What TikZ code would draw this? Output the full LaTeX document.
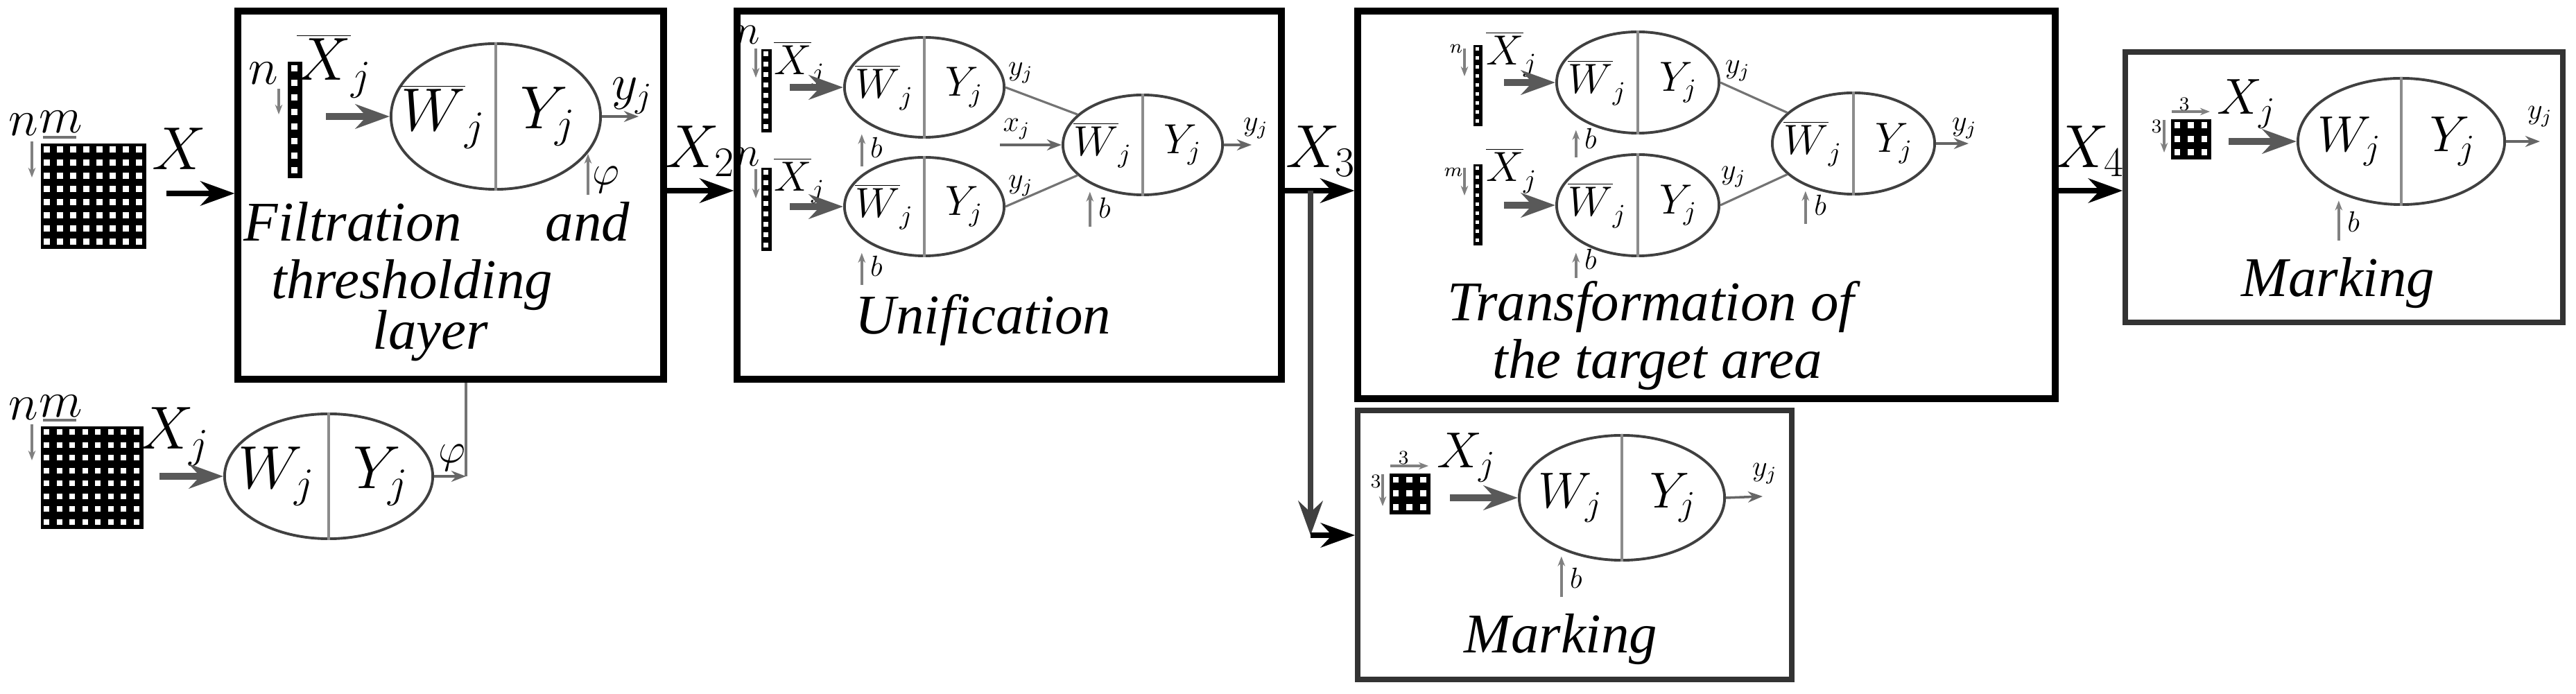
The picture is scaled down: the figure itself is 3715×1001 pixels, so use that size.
\documentclass[tikz,border=0pt]{standalone}
\usepackage{fontspec}
\setmainfont{Liberation Serif}
\usetikzlibrary{positioning, arrows.meta, calc, shapes.geometric, fit}

\newcommand{\fbig}{\fontsize{24}{28}\selectfont}
\newcommand{\fmid}{\fontsize{20}{24}\selectfont}
\newcommand{\fsm}{\fontsize{16}{19}\selectfont}
\newcommand{\ftiny}{\fontsize{12}{14}\selectfont}
\newcommand{\fmini}{\fontsize{8}{10}\selectfont}

\tikzset{
    block/.style={draw=black, line width=2.6pt, inner sep=0pt},
    block2/.style={draw=black!80, line width=2.2pt, inner sep=0pt},
    neuron/.style={ellipse, draw=black!75, line width=1.1pt, inner sep=0pt},
    divider/.style={draw=black!45, line width=1.2pt},
    pix/.style={fill=black, draw=none, inner sep=0pt},
    flow/.style={-{Stealth[length=14pt,width=10pt]}, line width=2.2pt},
    feed/.style={-{Stealth[length=14pt,width=10pt]}, line width=3pt, draw=black!65},
    link/.style={draw=black!55, line width=0.9pt},
    tick/.style={-{Stealth[length=4pt]}, draw=black!50, line width=1.2pt},
    outlink/.style={-{Stealth[length=6pt]}, draw=black!60, line width=1pt},
    title/.style={font=\fontsize{23}{27}\selectfont\itshape, inner sep=0pt}
}

% neuron: name, x, y, rx, ry, font, left label, right label
\newcommand{\neuron}[8]{%
    \node[neuron, minimum width=#4*0.02cm, minimum height=#5*0.02cm] (#1) at (#2,#3) {};
    \draw[divider] (#1.north) -- (#1.south);
    \node[font=#6] at ([xshift=-#4*0.005cm]#1.center) {#7};
    \node[font=#6] at ([xshift=#4*0.005cm]#1.center) {#8};}

% pixel image: name, x, y, cols, rows, cell
\newcommand{\pixgrid}[6]{%
    \node[pix, anchor=north west, minimum width=#4*#6*0.01cm, minimum height=#5*#6*0.01cm] (#1) at (#2,#3) {};
    \foreach \ci in {1,...,#4} \foreach \ri in {1,...,#5}
        \fill[white] ($(#1.north west)+(\ci*#6-0.72*#6,\ri*#6-0.72*#6)$) rectangle +(0.44*#6,0.44*#6);}

\begin{document}
\begin{tikzpicture}[x=0.01cm, y=-0.01cm]
    \useasboundingbox (0,0) rectangle (3715,1001);

    % Filtration and thresholding layer
    \pixgrid{imgA}{58}{206}{8}{8}{19}
    \node[font=\fmid] at (34,180) {$n$};
    \node[font=\fmid] at (88,176) {$m$};
    \draw[tick] (46,204) -- (46,256);
    \draw[link] (62,198) -- (110,198);
    \node[font=\fbig] (lX) at (258,215) {$X$};
    \node[block, fit={(343,16) (957,547)}] (filt) {};
    \coordinate (xin) at (240,279);
    \draw[flow] (xin) -- (xin -| filt.west);

    \pixgrid{vecF}{414}{88}{1}{8}{21}
    \node[font=\fmid] at (380,106) {$n$};
    \draw[tick] (402,128) -- (402,165);
    \node[font=\fbig] at (482,95) {$\overline{X}_j$};
    \neuron{eF}{715}{168}{151}{105}{\fbig}{$\overline{W}_j$}{$Y_j$}
    \coordinate (fin) at (470,168);
    \draw[feed] (fin) -- (eF.west);
    \node[font=\fmid] at (912,138) {$y_j$};
    \coordinate (yFo) at (921,168);
    \draw[outlink] (eF.east) -- (yFo);
    \coordinate (phiF) at (848,281);
    \coordinate (phiFe) at (848,222);
    \draw[tick] (phiF) -- (phiFe);
    \node[font=\fsm] at (874,259) {$\varphi$};
    \node[title, anchor=base west] at (351,348) {Filtration};
    \node[title, anchor=base east] at (909,348) {and};
    \node[title, anchor=base] at (594,431) {thresholding};
    \node[title, anchor=base] at (621,504) {layer};

    % second input
    \pixgrid{imgB}{58}{614}{8}{8}{18.5}
    \node[font=\fmid] at (34,590) {$n$};
    \node[font=\fmid] at (88,586) {$m$};
    \draw[tick] (46,612) -- (46,664);
    \draw[link] (62,606) -- (110,606);
    \node[font=\fbig] at (252,630) {$X_j$};
    \neuron{eG}{474}{687}{150}{90}{\fbig}{$W_j$}{$Y_j$}
    \coordinate (gin) at (230,687);
    \draw[feed] (gin) -- (eG.west);
    \coordinate (phiG) at (672,687);
    \draw[link, line width=1.4pt] (filt.south -| phiG) -- (phiG);
    \draw[outlink] (eG.east) -- (phiG);
    \node[font=\fsm] at (652,660) {$\varphi$};

    % Unification
    \node[font=\fbig] at (1010,218) {$X_2$};
    \node[block, fit={(1063,16) (1848,547)}] (unif) {};
    \coordinate (x2) at (1000,275);
    \draw[flow] (filt.east |- x2) -- (unif.west |- x2);

    \pixgrid{vecA}{1097}{70}{1}{8}{15}
    \pixgrid{vecB}{1097}{241}{1}{8}{15}
    \node[font=\fsm] at (1078,50) {$n$};
    \node[font=\fsm] at (1078,226) {$n$};
    \draw[tick] (1090,70) -- (1090,112);
    \draw[tick] (1090,244) -- (1090,286);
    \node[font=\fsm] at (1153,92) {$\overline{X}_j$};
    \node[font=\fsm] at (1153,260) {$\overline{X}_j$};
    \neuron{eA}{1333}{126}{115}{72}{\fsm}{$\overline{W}_j$}{$Y_j$}
    \neuron{eB}{1333}{298}{115}{71}{\fsm}{$\overline{W}_j$}{$Y_j$}
    \neuron{eC}{1648}{209}{115}{72}{\fsm}{$\overline{W}_j$}{$Y_j$}
    \coordinate (ainA) at (1139,126);
    \coordinate (ainB) at (1139,298);
    \draw[feed] (ainA) -- (eA.west);
    \draw[feed] (ainB) -- (eB.west);
    \draw[link] (eA.east) -- (eC.155);
    \draw[link] (eB.east) -- (eC.-155);
    \node[font=\ftiny] at (1472,105) {$y_j$};
    \node[font=\ftiny] at (1472,268) {$y_j$};
    \node[font=\ftiny] at (1466,186) {$x_j$};
    \coordinate (xjC) at (1442,209);
    \draw[outlink] (xjC) -- (eC.west);
    \node[font=\ftiny] (bA) at (1264,213) {$b$};
    \node[font=\ftiny] (bB) at (1264,384) {$b$};
    \node[font=\ftiny] (bC) at (1593,300) {$b$};
    \draw[tick] (bA.south west) -- (bA.south west |- eA.235);
    \draw[tick] (bB.south west) -- (bB.south west |- eB.235);
    \draw[tick] (bC.south west) -- (bC.south west |- eC.235);
    \node[font=\ftiny] at (1811,185) {$y_j$};
    \coordinate (yCo) at (1805,209);
    \draw[outlink] (eC.east) -- (yCo);
    \node[title, anchor=base] at (1418,482) {Unification};

    % Transformation of the target area
    \node[font=\fbig] at (1905,218) {$X_3$};
    \node[block, fit={(1958,16) (2964,575)}] (trans) {};
    \node[block2, fit={(1958,592) (2584,980)}] (mark1) {};
    \coordinate (x3) at (1890,275);
    \coordinate (x3d) at (1890,772);
    \draw[flow] (unif.east |- x3) -- (trans.west |- x3);
    \draw[flow, draw=black!75] (x3) -- (x3d);
    \draw[flow] (x3d) -- (mark1.west |- x3d);

    \pixgrid{vecD}{2124}{64}{1}{9}{13}
    \pixgrid{vecE}{2124}{236}{1}{9}{13}
    \node[font=\fmini] at (2100,70) {$n$};
    \node[font=\fmini] at (2096,248) {$m$};
    \draw[tick] (2112,70) -- (2112,110);
    \draw[tick] (2112,242) -- (2112,282);
    \node[font=\fsm] at (2180,78) {$\overline{X}_j$};
    \node[font=\fsm] at (2180,246) {$\overline{X}_j$};
    \neuron{eD}{2362}{119}{117}{73}{\fsm}{$\overline{W}_j$}{$Y_j$}
    \neuron{eE}{2362}{296}{117}{73}{\fsm}{$\overline{W}_j$}{$Y_j$}
    \neuron{eH}{2673}{207}{117}{73}{\fsm}{$\overline{W}_j$}{$Y_j$}
    \coordinate (dinD) at (2169,119);
    \coordinate (dinE) at (2169,296);
    \draw[feed] (dinD) -- (eD.west);
    \draw[feed] (dinE) -- (eE.west);
    \draw[link] (eD.east) -- (eH.155);
    \draw[link] (eE.east) -- (eH.-155);
    \node[font=\ftiny] at (2506,102) {$y_j$};
    \node[font=\ftiny] at (2500,255) {$y_j$};
    \node[font=\ftiny] (bD) at (2294,200) {$b$};
    \node[font=\ftiny] (bE) at (2294,374) {$b$};
    \node[font=\ftiny] (bH) at (2625,296) {$b$};
    \draw[tick] (bD.south west) -- (bD.south west |- eD.235);
    \draw[tick] (bE.south west) -- (bE.south west |- eE.235);
    \draw[tick] (bH.south west) -- (bH.south west |- eH.235);
    \node[font=\ftiny] at (2833,185) {$y_j$};
    \coordinate (yHo) at (2839,207);
    \draw[outlink] (eH.east) -- (yHo);
    \node[title, anchor=base] at (2381,463) {Transformation of};
    \node[title, anchor=base] at (2390,546) {the target area};

    % Marking (lower)
    \pixgrid{imgC}{2003}{682}{3}{3}{19.8}
    \node[font=\fmini] at (1984,694) {$3$};
    \node[font=\fmini] at (2024,660) {$3$};
    \draw[tick] (1994,684) -- (1994,730);
    \draw[tick] (2005,672) -- (2060,672);
    \node[font=\fmid] at (2115,660) {$X_j$};
    \neuron{eM1}{2339}{718}{148}{90}{\fmid}{$W_j$}{$Y_j$}
    \coordinate (cin) at (2091,718);
    \draw[feed] (cin) -- (eM1.west);
    \node[font=\ftiny] (bM1) at (2273,834) {$b$};
    \draw[tick] (bM1.south west) -- (bM1.south west |- eM1.235);
    \node[font=\ftiny] at (2545,683) {$y_j$};
    \coordinate (yM1) at (2542,716);
    \draw[outlink] (eM1.east) -- (yM1);
    \node[title, anchor=base] at (2251,942) {Marking};

    % Marking (right)
    \node[font=\fbig] at (3014,218) {$X_4$};
    \node[block2, fit={(3065,75) (3696,465)}] (mark2) {};
    \coordinate (x4) at (3010,275);
    \draw[flow] (trans.east |- x4) -- (mark2.west |- x4);
    \pixgrid{imgD}{3130}{171}{3}{3}{19.5}
    \node[font=\fmini] at (3110,182) {$3$};
    \node[font=\fmini] at (3150,150) {$3$};
    \draw[tick] (3121,173) -- (3121,220);
    \draw[tick] (3132,161) -- (3187,161);
    \node[font=\fmid] at (3240,150) {$X_j$};
    \neuron{eM2}{3463}{204}{149}{91}{\fmid}{$W_j$}{$Y_j$}
    \coordinate (din) at (3214,204);
    \draw[feed] (din) -- (eM2.west);
    \node[font=\ftiny] (bM2) at (3394,320) {$b$};
    \draw[tick] (bM2.south west) -- (bM2.south west |- eM2.235);
    \node[font=\ftiny] at (3663,168) {$y_j$};
    \coordinate (yM2) at (3663,204);
    \draw[outlink] (eM2.east) -- (yM2);
    \node[title, anchor=base] at (3372,428) {Marking};
\end{tikzpicture}
\end{document}
